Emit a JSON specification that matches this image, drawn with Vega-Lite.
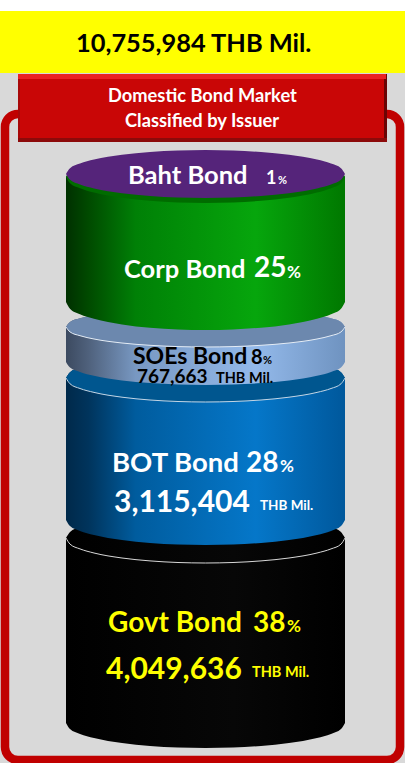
{"$schema":"https://vega.github.io/schema/vega-lite/v6.json","width":405,"height":763,"padding":0,"autosize":"none","background":"#ffffff","config":{"view":{"stroke":null}},
"datasets":{
"panels":[
{"part":"page","x":0,"x2":405,"y":73,"y2":763},
{"part":"headline","x":0,"x2":405,"y":11,"y2":73}],
"frame":[{"x":5,"x2":400,"y":114,"y2":760}],
"banner":[
{"part":"bevelLeft","x":18,"x2":387,"y":74,"y2":142},
{"part":"bevelRight","x":384,"x2":387,"y":74,"y2":142},
{"part":"bevelBottom","x":18,"x2":387,"y":138,"y2":142},
{"part":"bevelTop","x":18,"x2":386,"y":74,"y2":79},
{"part":"face","x":20,"x2":384,"y":79,"y2":138}],
"discs":[
{"seg":"Govt","x":66,"back":538,"front":538,"base":723},{"seg":"Govt","x":70,"back":531.9,"front":544.1,"base":729.1},{"seg":"Govt","x":80,"back":527.1,"front":548.9,"base":733.9},{"seg":"Govt","x":94,"back":523,"front":553,"base":738},{"seg":"Govt","x":122,"back":518,"front":558,"base":743},{"seg":"Govt","x":150,"back":515.1,"front":560.9,"base":745.9},{"seg":"Govt","x":178,"back":513.5,"front":562.5,"base":747.5},{"seg":"Govt","x":205.5,"back":513,"front":563,"base":748},{"seg":"Govt","x":233,"back":513.5,"front":562.5,"base":747.5},{"seg":"Govt","x":261,"back":515.1,"front":560.9,"base":745.9},{"seg":"Govt","x":289,"back":518,"front":558,"base":743},{"seg":"Govt","x":317,"back":523,"front":553,"base":738},{"seg":"Govt","x":331,"back":527.1,"front":548.9,"base":733.9},{"seg":"Govt","x":341,"back":531.9,"front":544.1,"base":729.1},{"seg":"Govt","x":345,"back":538,"front":538,"base":723},
{"seg":"BOT","x":66,"back":378,"front":378,"base":520},{"seg":"BOT","x":70,"back":372.2,"front":383.8,"base":526.1},{"seg":"BOT","x":80,"back":367.5,"front":388.5,"base":530.9},{"seg":"BOT","x":94,"back":363.6,"front":392.4,"base":535},{"seg":"BOT","x":122,"back":358.8,"front":397.2,"base":540},{"seg":"BOT","x":150,"back":356,"front":400,"base":542.9},{"seg":"BOT","x":178,"back":354.5,"front":401.5,"base":544.5},{"seg":"BOT","x":205.5,"back":354,"front":402,"base":545},{"seg":"BOT","x":233,"back":354.5,"front":401.5,"base":544.5},{"seg":"BOT","x":261,"back":356,"front":400,"base":542.9},{"seg":"BOT","x":289,"back":358.8,"front":397.2,"base":540},{"seg":"BOT","x":317,"back":363.6,"front":392.4,"base":535},{"seg":"BOT","x":331,"back":367.5,"front":388.5,"base":530.9},{"seg":"BOT","x":341,"back":372.2,"front":383.8,"base":526.1},{"seg":"BOT","x":345,"back":378,"front":378,"base":520},
{"seg":"SOEs","x":66,"back":327,"front":327,"base":362},{"seg":"SOEs","x":70,"back":322.1,"front":331.9,"base":367.6},{"seg":"SOEs","x":80,"back":318.3,"front":335.7,"base":372},{"seg":"SOEs","x":94,"back":315,"front":339,"base":375.8},{"seg":"SOEs","x":122,"back":311,"front":343,"base":380.4},{"seg":"SOEs","x":150,"back":308.7,"front":345.3,"base":383.1},{"seg":"SOEs","x":178,"back":307.4,"front":346.6,"base":384.5},{"seg":"SOEs","x":205.5,"back":307,"front":347,"base":385},{"seg":"SOEs","x":233,"back":307.4,"front":346.6,"base":384.5},{"seg":"SOEs","x":261,"back":308.7,"front":345.3,"base":383.1},{"seg":"SOEs","x":289,"back":311,"front":343,"base":380.4},{"seg":"SOEs","x":317,"back":315,"front":339,"base":375.8},{"seg":"SOEs","x":331,"back":318.3,"front":335.7,"base":372},{"seg":"SOEs","x":341,"back":322.1,"front":331.9,"base":367.6},{"seg":"SOEs","x":345,"back":327,"front":327,"base":362},
{"seg":"Corp","x":66,"back":177,"front":177,"base":302},{"seg":"Corp","x":70,"back":170.7,"front":183.3,"base":308.8},{"seg":"Corp","x":80,"back":165.7,"front":188.3,"base":314.2},{"seg":"Corp","x":94,"back":161.4,"front":192.6,"base":318.8},{"seg":"Corp","x":122,"back":156.2,"front":197.8,"base":324.4},{"seg":"Corp","x":150,"back":153.2,"front":200.8,"base":327.7},{"seg":"Corp","x":178,"back":151.5,"front":202.5,"base":329.4},{"seg":"Corp","x":205.5,"back":151,"front":203,"base":330},{"seg":"Corp","x":233,"back":151.5,"front":202.5,"base":329.4},{"seg":"Corp","x":261,"back":153.2,"front":200.8,"base":327.7},{"seg":"Corp","x":289,"back":156.2,"front":197.8,"base":324.4},{"seg":"Corp","x":317,"back":161.4,"front":192.6,"base":318.8},{"seg":"Corp","x":331,"back":165.7,"front":188.3,"base":314.2},{"seg":"Corp","x":341,"back":170.7,"front":183.3,"base":308.8},{"seg":"Corp","x":345,"back":177,"front":177,"base":302},
{"seg":"Baht","x":66,"back":174,"front":174},{"seg":"Baht","x":70,"back":168.2,"front":179.8},{"seg":"Baht","x":80,"back":163.5,"front":184.5},{"seg":"Baht","x":94,"back":159.6,"front":188.4},{"seg":"Baht","x":122,"back":154.8,"front":193.2},{"seg":"Baht","x":150,"back":152,"front":196},{"seg":"Baht","x":178,"back":150.5,"front":197.5},{"seg":"Baht","x":205.5,"back":150,"front":198},{"seg":"Baht","x":233,"back":150.5,"front":197.5},{"seg":"Baht","x":261,"back":152,"front":196},{"seg":"Baht","x":289,"back":154.8,"front":193.2},{"seg":"Baht","x":317,"back":159.6,"front":188.4},{"seg":"Baht","x":331,"back":163.5,"front":184.5},{"seg":"Baht","x":341,"back":168.2,"front":179.8},{"seg":"Baht","x":345,"back":174,"front":174}],
"labels":[
{"label":"10,755,984 THB Mil.","x":76,"y":52,"tone":"dark","kind":"title"},
{"label":"Domestic Bond Market","x":108,"y":102,"tone":"light","kind":"banner"},
{"label":"Classified by Issuer","x":125,"y":127,"tone":"light","kind":"banner"},
{"label":"Baht Bond","x":128,"y":184,"tone":"light","kind":"nameA"},
{"label":"1","x":266,"y":184,"tone":"light","kind":"smallShare"},
{"label":"%","x":278,"y":184,"tone":"light","kind":"tinyPct"},
{"label":"Corp Bond","x":124,"y":278,"tone":"light","kind":"nameA"},
{"label":"25","x":254,"y":277,"tone":"light","kind":"share"},
{"label":"%","x":287,"y":278,"tone":"light","kind":"pct"},
{"label":"SOEs Bond","x":133,"y":364,"tone":"dark","kind":"name"},
{"label":"8","x":251,"y":364,"tone":"dark","kind":"midShare"},
{"label":"%","x":263,"y":364,"tone":"dark","kind":"tinyPct"},
{"label":"767,663","x":137,"y":383,"tone":"dark","kind":"midAmount"},
{"label":"THB Mil.","x":216,"y":383,"tone":"dark","kind":"unitA"},
{"label":"BOT Bond","x":112,"y":472,"tone":"light","kind":"nameB"},
{"label":"28","x":246,"y":472,"tone":"light","kind":"share"},
{"label":"%","x":280,"y":472,"tone":"light","kind":"pct"},
{"label":"3,115,404","x":114,"y":512,"tone":"light","kind":"amount"},
{"label":"THB Mil.","x":260,"y":510,"tone":"light","kind":"unitB"},
{"label":"Govt Bond","x":108,"y":632,"tone":"gold","kind":"nameC"},
{"label":"38","x":253,"y":632,"tone":"gold","kind":"share"},
{"label":"%","x":287,"y":632,"tone":"gold","kind":"pct"},
{"label":"4,049,636","x":106,"y":679,"tone":"gold","kind":"amount"},
{"label":"THB Mil.","x":252,"y":677,"tone":"gold","kind":"unitA"}]},
"layer":[
{"data":{"name":"panels"},"mark":{"type":"rect"},"encoding":{"x":{"field":"x","type":"quantitative","scale":{"domain":[0,405]},"axis":null},"x2":{"field":"x2"},"y":{"field":"y","type":"quantitative","scale":{"domain":[0,763],"reverse":true},"axis":null},"y2":{"field":"y2"},"fill":{"field":"part","type":"nominal","legend":null,"scale":{"domain":["page","headline","bevelLeft","bevelRight","bevelBottom","bevelTop","face"],"range":["#d9d9d9","#ffff00","#a80808","#6a0505","#8c0a0a","#ea2323","#c90606"]}}}},
{"data":{"name":"frame"},"mark":{"type":"rect","fillOpacity":0,"stroke":"#c00000","strokeWidth":8.5,"cornerRadius":13},"encoding":{"x":{"field":"x","type":"quantitative","scale":{"domain":[0,405]},"axis":null},"x2":{"field":"x2"},"y":{"field":"y","type":"quantitative","scale":{"domain":[0,763],"reverse":true},"axis":null},"y2":{"field":"y2"}}},
{"data":{"name":"banner"},"mark":{"type":"rect"},"encoding":{"x":{"field":"x","type":"quantitative","scale":{"domain":[0,405]},"axis":null},"x2":{"field":"x2"},"y":{"field":"y","type":"quantitative","scale":{"domain":[0,763],"reverse":true},"axis":null},"y2":{"field":"y2"},"fill":{"field":"part","type":"nominal","legend":null,"scale":{"domain":["page","headline","bevelLeft","bevelRight","bevelBottom","bevelTop","face"],"range":["#d9d9d9","#ffff00","#a80808","#6a0505","#8c0a0a","#ea2323","#c90606"]}}}},

{"data":{"name":"discs"},"transform":[{"filter":{"field":"seg","equal":"Govt"}}],"mark":{"type":"area","interpolate":"monotone","fill":{"gradient":"linear","x1":0,"y1":0,"x2":1,"y2":0,"stops":[{"offset":0,"color":"#000000"},{"offset":0.6,"color":"#070707"},{"offset":1,"color":"#000000"}]}},"encoding":{"x":{"field":"x","type":"quantitative","scale":{"domain":[0,405]},"axis":null},"y":{"field":"back","type":"quantitative","scale":{"domain":[0,763],"reverse":true},"axis":null},"y2":{"field":"base"}}},
{"data":{"name":"discs"},"transform":[{"filter":{"field":"seg","equal":"Govt"}}],"mark":{"type":"line","interpolate":"monotone","stroke":"#d8d8d8","strokeWidth":1},"encoding":{"x":{"field":"x","type":"quantitative","scale":{"domain":[0,405]},"axis":null},"y":{"field":"front","type":"quantitative","scale":{"domain":[0,763],"reverse":true},"axis":null}}},

{"data":{"name":"discs"},"transform":[{"filter":{"field":"seg","equal":"BOT"}}],"mark":{"type":"area","interpolate":"monotone","fill":{"gradient":"linear","x1":0,"y1":0,"x2":1,"y2":0,"stops":[{"offset":0,"color":"#00294a"},{"offset":0.08,"color":"#00345c"},{"offset":0.25,"color":"#005c9e"},{"offset":0.68,"color":"#0577c9"},{"offset":1,"color":"#00589c"}]}},"encoding":{"x":{"field":"x","type":"quantitative","scale":{"domain":[0,405]},"axis":null},"y":{"field":"back","type":"quantitative","scale":{"domain":[0,763],"reverse":true},"axis":null},"y2":{"field":"base"}}},
{"data":{"name":"discs"},"transform":[{"filter":{"field":"seg","equal":"BOT"}}],"mark":{"type":"area","interpolate":"monotone","fill":"#00568f"},"encoding":{"x":{"field":"x","type":"quantitative","scale":{"domain":[0,405]},"axis":null},"y":{"field":"back","type":"quantitative","scale":{"domain":[0,763],"reverse":true},"axis":null},"y2":{"field":"front"}}},
{"data":{"name":"discs"},"transform":[{"filter":{"field":"seg","equal":"BOT"}}],"mark":{"type":"line","interpolate":"monotone","stroke":"#c4d6e6","strokeWidth":1},"encoding":{"x":{"field":"x","type":"quantitative","scale":{"domain":[0,405]},"axis":null},"y":{"field":"front","type":"quantitative","scale":{"domain":[0,763],"reverse":true},"axis":null}}},

{"data":{"name":"discs"},"transform":[{"filter":{"field":"seg","equal":"SOEs"}}],"mark":{"type":"area","interpolate":"monotone","fill":{"gradient":"linear","x1":0,"y1":0,"x2":1,"y2":0,"stops":[{"offset":0,"color":"#3c4a60"},{"offset":0.08,"color":"#4f617c"},{"offset":0.25,"color":"#7898c2"},{"offset":0.68,"color":"#93b9ea"},{"offset":1,"color":"#6f93c0"}]}},"encoding":{"x":{"field":"x","type":"quantitative","scale":{"domain":[0,405]},"axis":null},"y":{"field":"back","type":"quantitative","scale":{"domain":[0,763],"reverse":true},"axis":null},"y2":{"field":"base"}}},
{"data":{"name":"discs"},"transform":[{"filter":{"field":"seg","equal":"SOEs"}}],"mark":{"type":"area","interpolate":"monotone","fill":"#6c88ae"},"encoding":{"x":{"field":"x","type":"quantitative","scale":{"domain":[0,405]},"axis":null},"y":{"field":"back","type":"quantitative","scale":{"domain":[0,763],"reverse":true},"axis":null},"y2":{"field":"front"}}},
{"data":{"name":"discs"},"transform":[{"filter":{"field":"seg","equal":"SOEs"}}],"mark":{"type":"line","interpolate":"monotone","stroke":"#e4ecf5","strokeWidth":1},"encoding":{"x":{"field":"x","type":"quantitative","scale":{"domain":[0,405]},"axis":null},"y":{"field":"front","type":"quantitative","scale":{"domain":[0,763],"reverse":true},"axis":null}}},

{"data":{"name":"discs"},"transform":[{"filter":{"field":"seg","equal":"Corp"}}],"mark":{"type":"area","interpolate":"monotone","fill":{"gradient":"linear","x1":0,"y1":0,"x2":1,"y2":0,"stops":[{"offset":0,"color":"#003000"},{"offset":0.08,"color":"#004a00"},{"offset":0.25,"color":"#008006"},{"offset":0.68,"color":"#06a60c"},{"offset":1,"color":"#007800"}]}},"encoding":{"x":{"field":"x","type":"quantitative","scale":{"domain":[0,405]},"axis":null},"y":{"field":"back","type":"quantitative","scale":{"domain":[0,763],"reverse":true},"axis":null},"y2":{"field":"base"}}},
{"data":{"name":"discs"},"transform":[{"filter":{"field":"seg","equal":"Corp"}}],"mark":{"type":"area","interpolate":"monotone","fill":"#006c00"},"encoding":{"x":{"field":"x","type":"quantitative","scale":{"domain":[0,405]},"axis":null},"y":{"field":"back","type":"quantitative","scale":{"domain":[0,763],"reverse":true},"axis":null},"y2":{"field":"front"}}},

{"data":{"name":"discs"},"transform":[{"filter":{"field":"seg","equal":"Baht"}}],"mark":{"type":"area","interpolate":"monotone","fill":"#55247a"},"encoding":{"x":{"field":"x","type":"quantitative","scale":{"domain":[0,405]},"axis":null},"y":{"field":"back","type":"quantitative","scale":{"domain":[0,763],"reverse":true},"axis":null},"y2":{"field":"front"}}},

{"data":{"name":"labels"},"mark":{"type":"text","font":"Lato","fontWeight":"bold","align":"left","baseline":"alphabetic"},"encoding":{"x":{"field":"x","type":"quantitative","scale":{"domain":[0,405]},"axis":null},"y":{"field":"y","type":"quantitative","scale":{"domain":[0,763],"reverse":true},"axis":null},"text":{"field":"label"},"color":{"field":"tone","type":"nominal","legend":null,"scale":{"domain":["dark","light","gold"],"range":["#000000","#ffffff","#ffff00"]}},"size":{"field":"kind","type":"nominal","legend":null,"scale":{"type":"ordinal","domain":["title","banner","name","nameA","nameB","nameC","share","midShare","smallShare","pct","tinyPct","amount","midAmount","unitA","unitB"],"range":[25.4,18.3,23,25.5,27.5,28,28,20,18,17,11,30,19,14.5,13.5]}}}}
]}
